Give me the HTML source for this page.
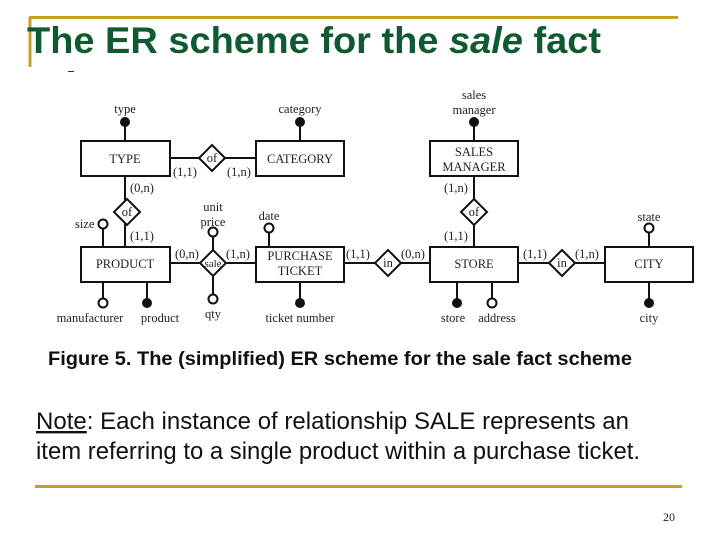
<!DOCTYPE html>
<html><head><meta charset="utf-8"><style>
html,body{margin:0;padding:0;background:#fff;}
svg{display:block}
.s{font-family:"Liberation Serif",serif;font-size:12.5px;fill:#222}
</style></head><body>
<svg width="720" height="540" viewBox="0 0 720 540" xmlns="http://www.w3.org/2000/svg">
<line x1="29" y1="17.5" x2="678" y2="17.5" stroke="#c4a02a" stroke-width="3"/>
<line x1="30" y1="17" x2="30" y2="67" stroke="#c4a02a" stroke-width="3"/>
<line x1="68" y1="71.5" x2="74" y2="71.5" stroke="#333" stroke-width="1"/>
<text x="27" y="53" font-family="Liberation Sans,Arial,sans-serif" font-size="37" font-weight="bold" fill="#0f5a30" textLength="574" lengthAdjust="spacingAndGlyphs">The ER scheme for the <tspan font-style="italic">sale</tspan> fact</text>

<g stroke="#111" stroke-width="2" fill="none">
<rect x="81" y="141" width="89" height="35"/>
<rect x="256" y="141" width="88" height="35"/>
<rect x="430" y="141" width="88" height="35"/>
<rect x="81" y="247" width="89" height="35"/>
<rect x="256" y="247" width="88" height="35"/>
<rect x="430" y="247" width="88" height="35"/>
<rect x="605" y="247" width="88" height="35"/>
<line x1="170" y1="158" x2="256" y2="158"/>
<line x1="125" y1="176" x2="125" y2="247"/>
<line x1="474" y1="176" x2="474" y2="247"/>
<line x1="170" y1="263" x2="256" y2="263"/>
<line x1="344" y1="263" x2="430" y2="263"/>
<line x1="518" y1="263" x2="605" y2="263"/>
<line x1="125" y1="122" x2="125" y2="141"/>
<line x1="300" y1="122" x2="300" y2="141"/>
<line x1="474" y1="122" x2="474" y2="141"/>
<line x1="103" y1="224" x2="103" y2="247"/>
<line x1="269" y1="228" x2="269" y2="247"/>
<line x1="649" y1="228" x2="649" y2="247"/>
<line x1="213" y1="232" x2="213" y2="299"/>
<line x1="103" y1="282" x2="103" y2="303"/>
<line x1="147" y1="282" x2="147" y2="303"/>
<line x1="300" y1="282" x2="300" y2="303"/>
<line x1="457" y1="282" x2="457" y2="303"/>
<line x1="492" y1="282" x2="492" y2="303"/>
<line x1="649" y1="282" x2="649" y2="303"/>
</g>
<g stroke="#111" stroke-width="2" fill="#fff">
<polygon points="212,145 225,158 212,171 199,158"/>
<polygon points="127,199 140,212 127,225 114,212"/>
<polygon points="474,199 487,212 474,225 461,212"/>
<polygon points="213,250 226,263 213,276 200,263"/>
<polygon points="388,250 401,263 388,276 375,263"/>
<polygon points="562,250 575,263 562,276 549,263"/>
<circle cx="103" cy="224" r="4.5"/>
<circle cx="269" cy="228" r="4.5"/>
<circle cx="649" cy="228" r="4.5"/>
<circle cx="213" cy="232" r="4.5"/>
<circle cx="213" cy="299" r="4.5"/>
<circle cx="103" cy="303" r="4.5"/>
<circle cx="492" cy="303" r="4.5"/>
</g>
<g fill="#111">
<circle cx="125" cy="122" r="5"/>
<circle cx="300" cy="122" r="5"/>
<circle cx="474" cy="122" r="5"/>
<circle cx="147" cy="303" r="5"/>
<circle cx="300" cy="303" r="5"/>
<circle cx="457" cy="303" r="5"/>
<circle cx="649" cy="303" r="5"/>
</g>
<g class="s" text-anchor="middle">
<text x="125" y="163">TYPE</text>
<text x="300" y="163">CATEGORY</text>
<text x="474" y="156">SALES</text>
<text x="474" y="171">MANAGER</text>
<text x="125" y="268">PRODUCT</text>
<text x="300" y="260">PURCHASE</text>
<text x="300" y="275">TICKET</text>
<text x="474" y="268">STORE</text>
<text x="649" y="268">CITY</text>
<text x="212" y="162">of</text>
<text x="127" y="216">of</text>
<text x="474" y="216">of</text>
<text x="213" y="267" font-size="11">sale</text>
<text x="388" y="267">in</text>
<text x="562" y="267">in</text>
<text x="125" y="113">type</text>
<text x="300" y="113">category</text>
<text x="474" y="99">sales</text>
<text x="474" y="114">manager</text>
<text x="213" y="211">unit</text>
<text x="213" y="226">price</text>
<text x="269" y="220">date</text>
<text x="649" y="221">state</text>
<text x="213" y="318">qty</text>
<text x="90" y="322">manufacturer</text>
<text x="160" y="322">product</text>
<text x="300" y="322">ticket number</text>
<text x="453" y="322">store</text>
<text x="497" y="322">address</text>
<text x="649" y="322">city</text>
</g>
<g class="s">
<text x="75" y="228">size</text>
<text x="173" y="176">(1,1)</text>
<text x="227" y="176">(1,n)</text>
<text x="130" y="192">(0,n)</text>
<text x="130" y="240">(1,1)</text>
<text x="175" y="258">(0,n)</text>
<text x="226" y="258">(1,n)</text>
<text x="346" y="258">(1,1)</text>
<text x="401" y="258">(0,n)</text>
<text x="444" y="192">(1,n)</text>
<text x="444" y="240">(1,1)</text>
<text x="523" y="258">(1,1)</text>
<text x="575" y="258">(1,n)</text>
</g>
<text x="48" y="365" font-family="Liberation Sans,Arial,sans-serif" font-size="19" font-weight="bold" fill="#111" textLength="584" lengthAdjust="spacingAndGlyphs">Figure 5. The (simplified) ER scheme for the sale fact scheme</text>
<g font-family="Liberation Sans,Arial,sans-serif" font-size="24" fill="#111">
<text x="36" y="429" textLength="593" lengthAdjust="spacingAndGlyphs"><tspan text-decoration="underline">Note</tspan>: Each instance of relationship SALE represents an</text>
<text x="36" y="459" textLength="604" lengthAdjust="spacingAndGlyphs">item referring to a single product within a purchase ticket.</text>
</g>
<line x1="35" y1="486.5" x2="682" y2="486.5" stroke="#c4a02a" stroke-width="3"/>
<text x="663" y="521" font-family="Liberation Serif,serif" font-size="12" fill="#222">20</text>
</svg>
</body></html>
